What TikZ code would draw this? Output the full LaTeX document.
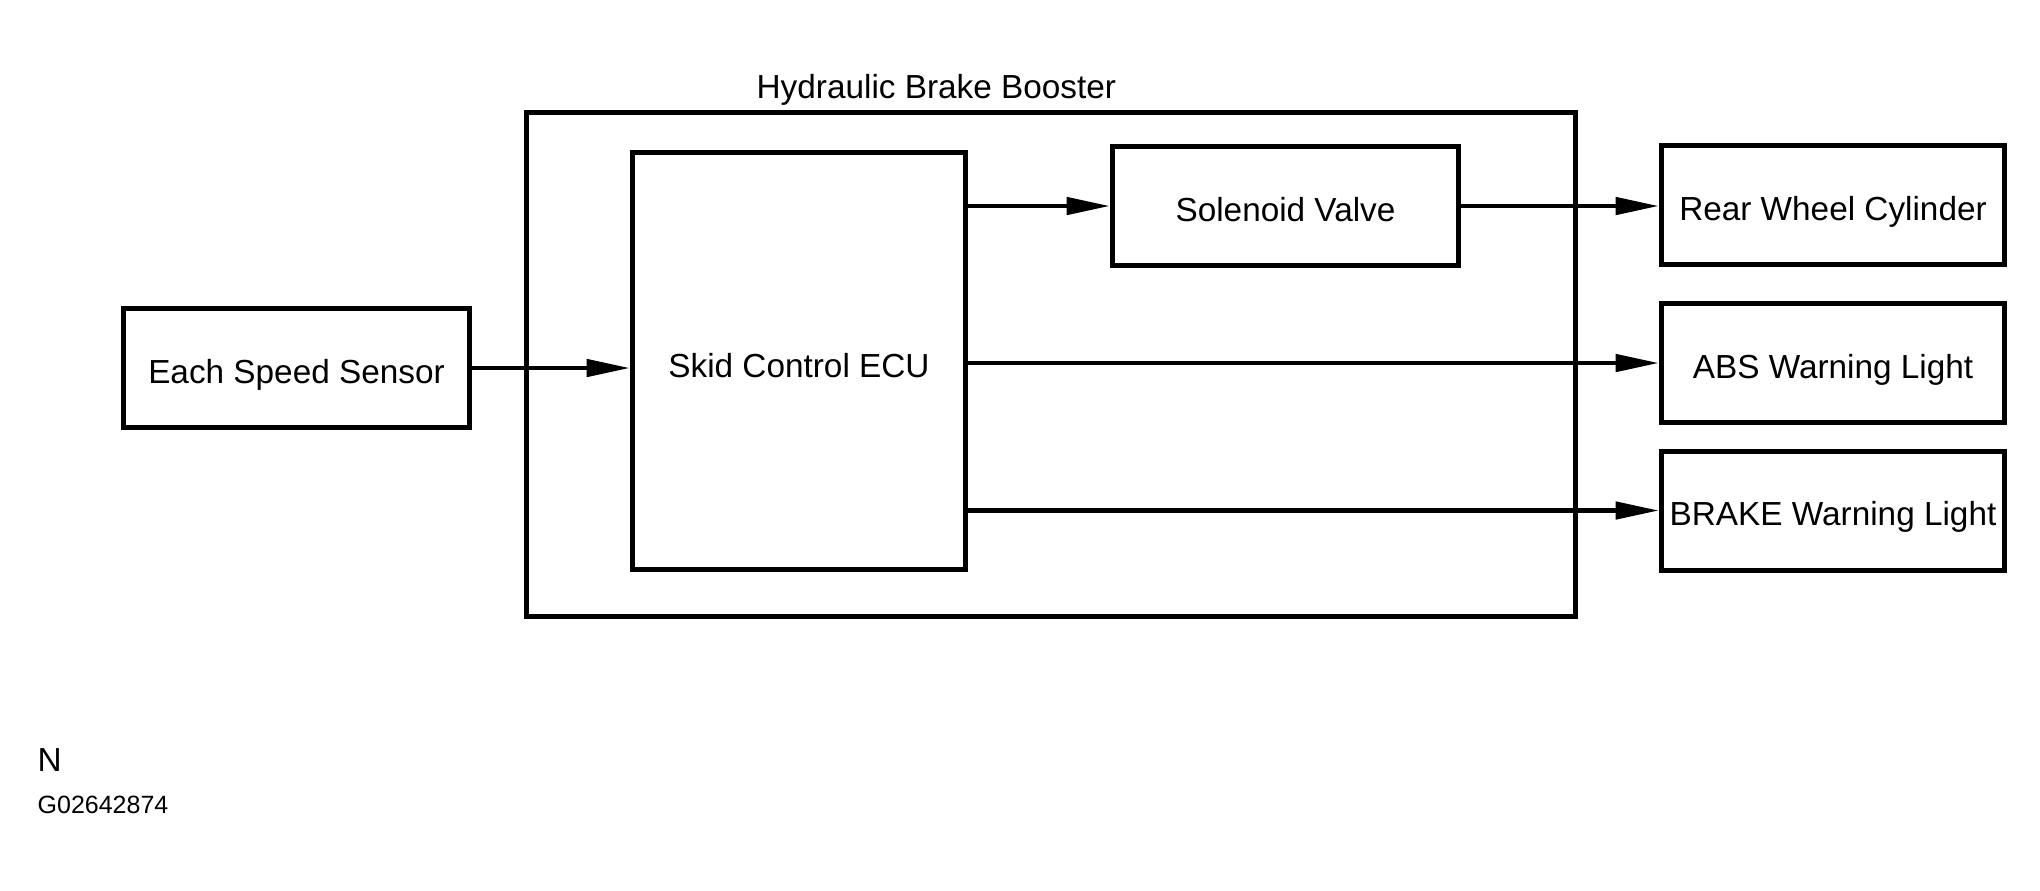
\documentclass[tikz,border=0pt]{standalone}
\usepackage{fontspec}
\setmainfont{Liberation Sans}
\usetikzlibrary{arrows.meta}
\tikzset{
	block/.style={draw, line width=1.5pt, inner sep=0pt, align=center, text height=10.6pt, text depth=1.6pt},
	wide/.style={minimum width=103.8pt, minimum height=35.7pt},
	arr/.style={-{Triangle[length=13pt,width=5.1pt]}, line width=1.4pt},
	tag/.style={anchor=base west, inner sep=0pt},
}
\begin{document}
\begin{tikzpicture}[x=0.3pt,y=-0.3pt]
	\useasboundingbox (0,0) rectangle (2040,890);
	\node[block, minimum width=314.7pt, minimum height=151.2pt] (booster) at (1051,364.5) {};
	\node[tag] (boostertitle) at (756,98) {Hydraulic Brake Booster};
	\node[block, minimum width=99.9pt, minimum height=125.1pt, text height=11.6pt] (ecu) at (799,361) {Skid Control ECU};
	\node[block, wide] (sensor) at (296.5,368) {Each Speed Sensor};
	\node[block, wide] (valve) at (1285.5,206) {Solenoid Valve};
	\node[block, wide, minimum width=102.9pt] (rear) at (1833,205) {Rear Wheel Cylinder};
	\node[block, wide, minimum width=102.9pt] (abs) at (1833,363) {ABS Warning Light};
	\node[block, wide, minimum width=102.9pt] (brake) at (1833,510.5) {BRAKE Warning Light};
	\draw[arr] (sensor.east) -- (sensor.east -| ecu.west);
	\draw[arr] (ecu.east |- valve.west) -- (valve.west);
	\draw[arr] (valve.east) -- (valve.east -| rear.west);
	\draw[arr] (ecu.east |- abs.west) -- (abs.west);
	\draw[arr] (ecu.east |- brake.west) -- (brake.west);
	\node[tag] (n) at (37,771) {N};
	\node[tag, font=\fontsize{7.5}{9}\selectfont] (code) at (37,813) {G02642874};
\end{tikzpicture}
\end{document}
